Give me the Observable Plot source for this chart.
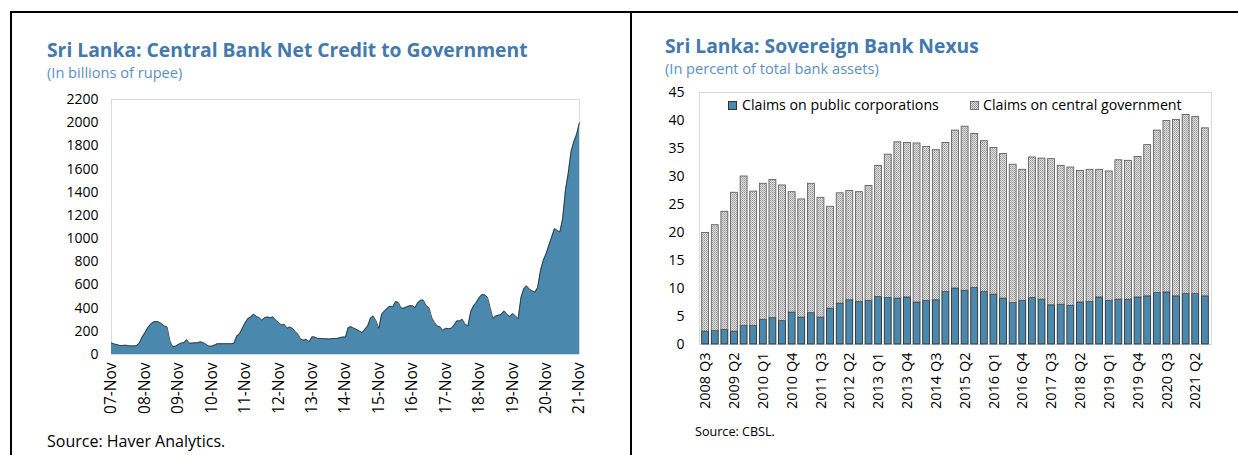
<!DOCTYPE html>
<html>
<head>
<meta charset="utf-8">
<script src="https://cdn.jsdelivr.net/npm/d3@7"></script>
<script src="https://cdn.jsdelivr.net/npm/@observablehq/plot@0.6"></script>
<style>
  html, body { margin: 0; padding: 0; background: #fff; }
  body { width: 1238px; height: 455px; position: relative; overflow: hidden; font-family: "Open Sans", sans-serif; }
  .abs { position: absolute; line-height: 1; white-space: nowrap; }
  .title { font-size: 19.3px; font-weight: 700; color: #4379ac; }
  .sub { font-size: 14.6px; color: #5b8fc4; }
  .src { color: #000; }
  .leg { font-size: 14.2px; color: #000; }
  .sq { position: absolute; width: 9px; height: 9px; border: 1px solid #333; box-sizing: border-box; }
  .line { position: absolute; background: #000; }
  svg { position: absolute; overflow: visible; }
</style>
</head>
<body>
<div class="line" style="left:10px; top:11px; width:1228px; height:2px;"></div>
<div class="line" style="left:10px; top:11px; width:2px; height:444px;"></div>
<div class="line" style="left:630px; top:11px; width:2px; height:444px;"></div>

<div class="abs title" style="left:47px; top:40px;">Sri Lanka: Central Bank Net Credit to Government</div>
<div class="abs sub" style="left:47px; top:65px;">(In billions of rupee)</div>
<div class="abs src" style="left:47px; top:433px; font-size:16px;">Source: Haver Analytics.</div>

<div class="abs title" style="left:665px; top:36px;">Sri Lanka: Sovereign Bank Nexus</div>
<div class="abs sub" style="left:665px; top:61px;">(In percent of total bank assets)</div>
<div class="abs src" style="left:695px; top:426px; font-size:12.6px;">Source: CBSL.</div>

<div id="left"></div>
<div id="right"></div>

<div class="sq" style="left:728px; top:101px; background:#4a89ad;"></div>
<div class="abs leg" style="left:742px; top:98px;">Claims on public corporations</div>
<div class="sq" id="graysq" style="left:970px; top:101px; border-color:#777;"></div>
<div class="abs leg" style="left:983px; top:98px;">Claims on central government</div>

<script>
// ---------- Left chart data: monthly, Nov 2007 .. Nov 2021 (billions of rupee)
const creditStartYear = 2007;
const creditStartMonth = 10; // November (0-based)
const creditValues = [
  100, 90, 85, 78, 78, 80, 76, 74, 74, 76, 100, 150,
  188, 230, 260, 280, 285, 280, 266, 246, 237, 116, 67, 72,
  87, 98, 104, 127, 98, 98, 101, 101, 110, 101, 87, 72,
  72, 81, 93, 93, 93, 93, 93, 93, 96, 159, 179, 226,
  275, 310, 324, 347, 330, 318, 295, 318, 324, 318, 324, 295,
  275, 255, 260, 226, 237, 226, 197, 174, 130, 124, 130, 110,
  153, 150, 139, 139, 136, 136, 133, 136, 139, 139, 145, 150,
  150, 232, 240, 226, 217, 203, 188, 217, 246, 313, 333, 290,
  226, 347, 376, 400, 417, 411, 457, 449, 400, 400, 411, 420,
  420, 405, 449, 469, 469, 420, 405, 318, 275, 246, 237, 208,
  226, 223, 226, 255, 290, 290, 304, 260, 246, 371, 420, 449,
  492, 515, 515, 492, 405, 310, 333, 339, 347, 376, 347, 327,
  353, 333, 310, 492, 565, 593, 565, 550, 536, 579, 724, 811,
  869, 941, 1013, 1086, 1071, 1057, 1172, 1419, 1563, 1751, 1838, 1900,
  2000
];
const creditYTicks = [0, 200, 400, 600, 800, 1000, 1200, 1400, 1600, 1800, 2000, 2200];
const creditTickYears = [2007, 2008, 2009, 2010, 2011, 2012, 2013, 2014, 2015, 2016, 2017, 2018, 2019, 2020, 2021];

// ---------- Right chart data: quarterly, 2008 Q3 .. 2021 Q3 (percent of total bank assets)
const quarters = [
  "2008 Q3","2008 Q4","2009 Q1","2009 Q2","2009 Q3","2009 Q4","2010 Q1","2010 Q2","2010 Q3","2010 Q4",
  "2011 Q1","2011 Q2","2011 Q3","2011 Q4","2012 Q1","2012 Q2","2012 Q3","2012 Q4","2013 Q1","2013 Q2",
  "2013 Q3","2013 Q4","2014 Q1","2014 Q2","2014 Q3","2014 Q4","2015 Q1","2015 Q2","2015 Q3","2015 Q4",
  "2016 Q1","2016 Q2","2016 Q3","2016 Q4","2017 Q1","2017 Q2","2017 Q3","2017 Q4","2018 Q1","2018 Q2",
  "2018 Q3","2018 Q4","2019 Q1","2019 Q2","2019 Q3","2019 Q4","2020 Q1","2020 Q2","2020 Q3","2020 Q4",
  "2021 Q1","2021 Q2","2021 Q3"
];
const publicCorp = [
  2.3, 2.4, 2.6, 2.3, 3.3, 3.3, 4.4, 4.7, 4.2, 5.7,
  4.8, 5.6, 4.8, 6.4, 7.3, 7.9, 7.6, 7.8, 8.5, 8.3,
  8.2, 8.4, 7.5, 7.8, 7.9, 9.4, 10.0, 9.6, 10.1, 9.4,
  8.9, 8.2, 7.4, 7.8, 8.3, 8.0, 7.0, 7.1, 6.9, 7.5,
  7.6, 8.4, 7.8, 8.0, 8.0, 8.4, 8.6, 9.2, 9.3, 8.6,
  9.0, 9.0, 8.6
];
const centralGov = [
  17.6, 18.9, 21.1, 24.8, 26.7, 24.0, 24.3, 24.7, 24.2, 21.5,
  21.1, 23.1, 21.4, 18.2, 19.7, 19.5, 19.6, 20.5, 23.4, 25.6,
  27.9, 27.6, 28.4, 27.5, 26.8, 26.6, 28.2, 29.3, 27.5, 26.9,
  26.2, 25.8, 24.7, 23.4, 25.1, 25.2, 26.1, 24.8, 24.7, 23.5,
  23.6, 22.8, 23.1, 24.9, 24.8, 25.1, 27.0, 29.0, 30.6, 31.5,
  32.0, 31.6, 30.0
];
const nexusYTicks = [0, 5, 10, 15, 20, 25, 30, 35, 40, 45];
const nexusTickLabels = quarters.filter((q, i) => i % 3 === 0);

const BLUE = "#4a89ad";
const FONT = "Open Sans, sans-serif";

// ---------- Left chart
const credit = creditValues.map((v, i) => ({
  date: new Date(Date.UTC(creditStartYear, creditStartMonth + i, 1)),
  value: v
}));
const creditTicks = creditTickYears.map(y => new Date(Date.UTC(y, 10, 1)));

const left = Plot.plot({
  width: 549, height: 334,
  marginLeft: 71, marginTop: 9, marginRight: 10, marginBottom: 70,
  style: { fontFamily: FONT, fontSize: "14px", color: "#000", background: "transparent" },
  x: { type: "utc", domain: [credit[0].date, credit[credit.length - 1].date], label: null },
  y: { domain: [0, 2200], label: null },
  marks: [
    Plot.frame({ stroke: "#d9d9d9" }),
    Plot.areaY(credit, { x: "date", y: "value", fill: BLUE }),
    Plot.lineY(credit, { x: "date", y: "value", stroke: "#2b2b2b", strokeWidth: 0.8 }),
    Plot.axisY({ ticks: creditYTicks, tickFormat: d3.format("d"), tickSize: 0, tickPadding: 13,
                 fontSize: 14, label: null }),
    Plot.axisX({ ticks: creditTicks, tickFormat: d3.utcFormat("%y-%b"), tickRotate: -90,
                 tickSize: 0, tickPadding: 8, fontSize: 15.5, label: null })
  ]
});
left.style.left = "40px";
left.style.top = "90px";
document.getElementById("left").appendChild(left);

// ---------- Right chart
const nexus = quarters.map((q, i) => ({ q, pub: publicCorp[i], gov: centralGov[i] }));

const right = Plot.plot({
  width: 571, height: 330,
  marginLeft: 49, marginTop: 8, marginRight: 10, marginBottom: 70,
  style: { fontFamily: FONT, fontSize: "14px", color: "#000", background: "transparent" },
  x: { type: "band", domain: quarters, padding: 0.28, label: null },
  y: { domain: [0, 45], label: null },
  marks: [
    Plot.frame({ stroke: "#d9d9d9" }),
    Plot.barY(nexus, { x: "q", y1: 0, y2: "pub", fill: BLUE, stroke: "#1f1f1f", strokeWidth: 0.8 }),
    Plot.barY(nexus, { x: "q", y1: "pub", y2: d => d.pub + d.gov, fill: "url(#hatch)", stroke: "#555", strokeWidth: 0.8 }),
    Plot.axisY({ ticks: nexusYTicks, tickSize: 0, tickPadding: 15, fontSize: 14, label: null }),
    Plot.axisX({ ticks: nexusTickLabels, tickRotate: -90, tickSize: 0, tickPadding: 8, fontSize: 14.5, label: null })
  ]
});
right.style.left = "650px";
right.style.top = "84px";
const ns = "http://www.w3.org/2000/svg";
const defs = document.createElementNS(ns, "defs");
defs.innerHTML = `<pattern id="hatch" patternUnits="userSpaceOnUse" width="2" height="2">
  <rect width="2" height="2" fill="#e0e0e0"></rect>
  <rect width="1" height="1" fill="#959595"></rect>
  <rect x="1" y="1" width="1" height="1" fill="#b0b0b0"></rect>
</pattern>`;
right.insertBefore(defs, right.firstChild);
document.getElementById("right").appendChild(right);
document.getElementById("graysq").style.background =
  "repeating-conic-gradient(#959595 0 25%, #e0e0e0 0 50%) 0 0 / 2px 2px";
</script>
</body>
</html>
